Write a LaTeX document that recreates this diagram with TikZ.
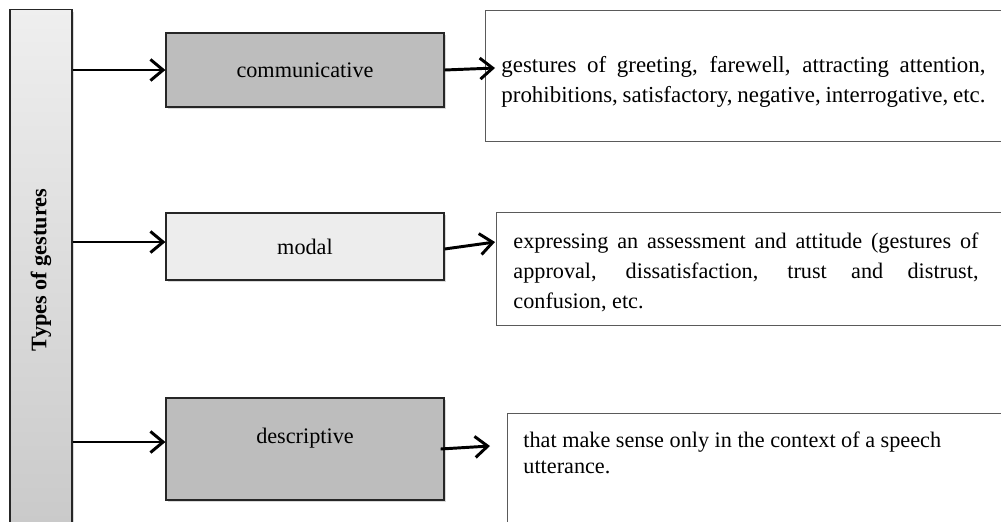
\documentclass[tikz,border=0pt]{standalone}
\usepackage{fontspec}
\setmainfont{Liberation Serif}
\usepackage{graphicx}
\usetikzlibrary{arrows.meta,shadows}

\definecolor{boxdark}{HTML}{BDBDBD}
\definecolor{boxlight}{HTML}{EDEDED}
\definecolor{notegray}{HTML}{5A5A5A}

\tikzset{
  kindbox/.style={draw=black!85, line width=0.8pt, minimum width=6.95cm,
    font=\fontsize{15.8}{19}\selectfont,
    drop shadow={shadow xshift=0.05cm, shadow yshift=-0.06cm, opacity=0.3}},
  notebox/.style={draw=notegray, line width=0.6pt, anchor=north west, align=left,
    font=\fontsize{15.8}{21.3}\selectfont},
  arr/.style={-{Straight Barb[length=9pt,width=15pt]}, line width=2.1pt},
}
\newcommand{\justpar}{\rightskip=0pt \spaceskip=0pt \xspaceskip=0pt\relax}

\begin{document}
\begin{tikzpicture}[x=0.025cm, y=-0.025cm]
\useasboundingbox (0,0) rectangle (1001,521);
\clip (0,0) rectangle (1001,521);

\node[draw=black!85, line width=0.8pt, minimum width=1.55cm, minimum height=13cm,
  top color=boxlight!90!white, bottom color=boxlight!85!black,
  font=\fontsize{15.8}{19}\selectfont,
  drop shadow={shadow xshift=0.05cm, shadow yshift=-0.06cm, opacity=0.3}]
  (Types) at (41,270) {\rotatebox{90}{\bfseries Types of gestures}};

\node[kindbox, fill=boxdark, minimum height=1.85cm] (Comm) at (305,70) {communicative};
\node[kindbox, fill=boxlight, minimum height=1.675cm] (Modal) at (305,246.5) {modal};
\node[kindbox, fill=boxdark, minimum height=2.55cm, text depth=19pt] (Descr) at (305,449) {descriptive};

\node[notebox, minimum height=3.275cm, inner xsep=0.4cm, text width=12.575cm, text height=20pt,
  font=\fontsize{16.3}{21.3}\selectfont]
  (CommNote) at (485,10)
  {\parbox[t]{12.1cm}{\justpar
   gestures of greeting, farewell, attracting attention,\linebreak
   prohibitions, satisfactory, negative, interrogative, etc.}};
\node[notebox, minimum height=2.825cm, inner xsep=0.425cm, text width=12.25cm, text height=15.8pt]
  (ModalNote) at (496,212)
  {\parbox[t]{11.625cm}{\justpar
   expressing an assessment and attitude (gestures of\linebreak
   approval, dissatisfaction, trust and distrust,\linebreak confusion, etc.}};
\node[notebox, inner xsep=0.4cm, inner ysep=13.4pt, text width=12.025cm, text depth=3cm,
  font=\fontsize{15.8}{18.5}\selectfont]
  (DescrNote) at (507,413)
  {\spaceskip=0pt\xspaceskip=0pt
   that make sense only in the context of a speech\\ utterance.};

\coordinate (CommTip) at (495,68);
\coordinate (ModalTip) at (495,242);
\coordinate (DescrTip) at (490,446);

\draw[arr] (Types.east |- Comm) -- (Comm.west);
\draw[arr] (Types.east |- 0,242) -- (Modal.west |- 0,242);
\draw[arr] (Types.east |- 0,442) -- (Descr.west |- 0,442);

\draw[arr] (Comm.east) -- (CommTip);
\draw[arr] ([yshift=-0.0625cm]Modal.east) -- (ModalTip);
\draw[arr] ([xshift=-0.1cm]Descr.east) -- (DescrTip);
\end{tikzpicture}
\end{document}
